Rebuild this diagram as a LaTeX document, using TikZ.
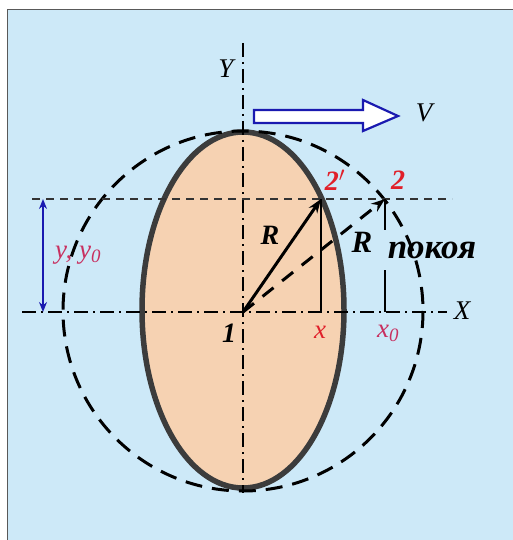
\documentclass[tikz,border=0pt]{standalone}
\usepackage{fontspec}
\setmainfont{Liberation Serif}
\usetikzlibrary{arrows.meta}
\definecolor{bgblue}{HTML}{CDE9F8}
\definecolor{peach}{HTML}{F6D2B2}
\definecolor{rimgray}{HTML}{3C3C3C}
\definecolor{lblred}{HTML}{E0202A}
\definecolor{lblpink}{HTML}{C83060}
\definecolor{arrblue}{HTML}{1A1AB0}
\tikzset{
  axisline/.style={line width=1.5pt, dash pattern=on 14pt off 5pt on 2pt off 5pt},
  guide/.style={line width=2pt, draw=black!80, dash pattern=on 8pt off 6pt},
  lbl/.style={inner sep=0pt, font=\fontsize{27}{27}\selectfont\itshape},
  blbl/.style={inner sep=0pt, font=\fontsize{28}{28}\selectfont\bfseries\itshape},
}
\begin{document}
\begin{tikzpicture}[x=1pt,y=-1pt]
\useasboundingbox (0,0) rectangle (513,540);
\fill[white] (0,0) rectangle (513,540);
\filldraw[fill=bgblue, draw=gray!70!black, line width=1pt] (7,10) rectangle (520,548);
% ellipse
\filldraw[fill=peach, draw=rimgray, line width=5.5pt] (243,310) ellipse [x radius=101, y radius=178];
% rest circle
\draw[line width=3pt, dash pattern=on 17pt off 10pt] (243,311) circle [radius=180];
% coordinates
\coordinate (O) at (243,312);
\coordinate (P2p) at (321,199);
\coordinate (P2) at (385,199);
\coordinate (Xl) at (22,312);
\coordinate (Xr) at (447,312);
\coordinate (Yt) at (243,43);
\coordinate (Yb) at (243,493);
\coordinate (Gl) at (32,199);
\coordinate (Gr) at (452,199);
% axes
\draw[axisline] (Xl) -- (Xr);
\draw[axisline] (Yt) -- (Yb);
% horizontal guide
\draw[guide] (Gl) -- (Gr);
% verticals
\draw[line width=1.2pt] (P2p) -- (P2p |- O);
\draw[line width=1.2pt] (P2) -- (385,230);
\draw[line width=1.2pt] (385,270) -- (P2 |- O);
% radius arrows
\draw[line width=3pt, -{Stealth[length=14pt,width=10pt]}] (O) -- (P2p);
\draw[line width=3pt, dash pattern=on 14pt off 11pt, -{Stealth[length=14pt,width=10pt]}] (O) -- (P2);
% V arrow
\filldraw[fill=white, draw=arrblue, line width=2.2pt] (254,110) -- (363,110) -- (363,100) -- (398,116) -- (363,131) -- (363,123) -- (254,123) -- cycle;
% y double arrow
\coordinate (Ya) at (43,199);
\coordinate (Yz) at (43,312);
\draw[arrblue, line width=1.6pt, {Stealth[length=10pt,width=8pt]}-{Stealth[length=10pt,width=8pt]}] (Ya) -- (Yz);
% labels
\node[lbl] (lY) at (226,69) {Y};
\node[lbl] (lV) at (424,113) {V};
\node[lbl] (lX) at (462,311) {X};
\node[blbl, text=lblred] (l2p) at (335,180) {2$'$};
\node[blbl, text=lblred] (l2) at (398,180) {2};
\node[blbl] (lR) at (270,235) {R};
\node[blbl, font=\fontsize{31}{31}\selectfont\bfseries\itshape] (lR2) at (362,242) {R};
\node[blbl, font=\fontsize{35}{35}\selectfont\bfseries\itshape] (lpok) at (432,250) {покоя};
\node[blbl] (l1) at (229,333) {1};
\node[lbl, text=lblred] (lx) at (320,332) {x};
\node[lbl, text=lblpink] (lx0) at (388,333) {x\textsubscript{0}};
\node[lbl, text=lblpink] (lyy) at (78,255) {y, y\textsubscript{0}};
\end{tikzpicture}
\end{document}
